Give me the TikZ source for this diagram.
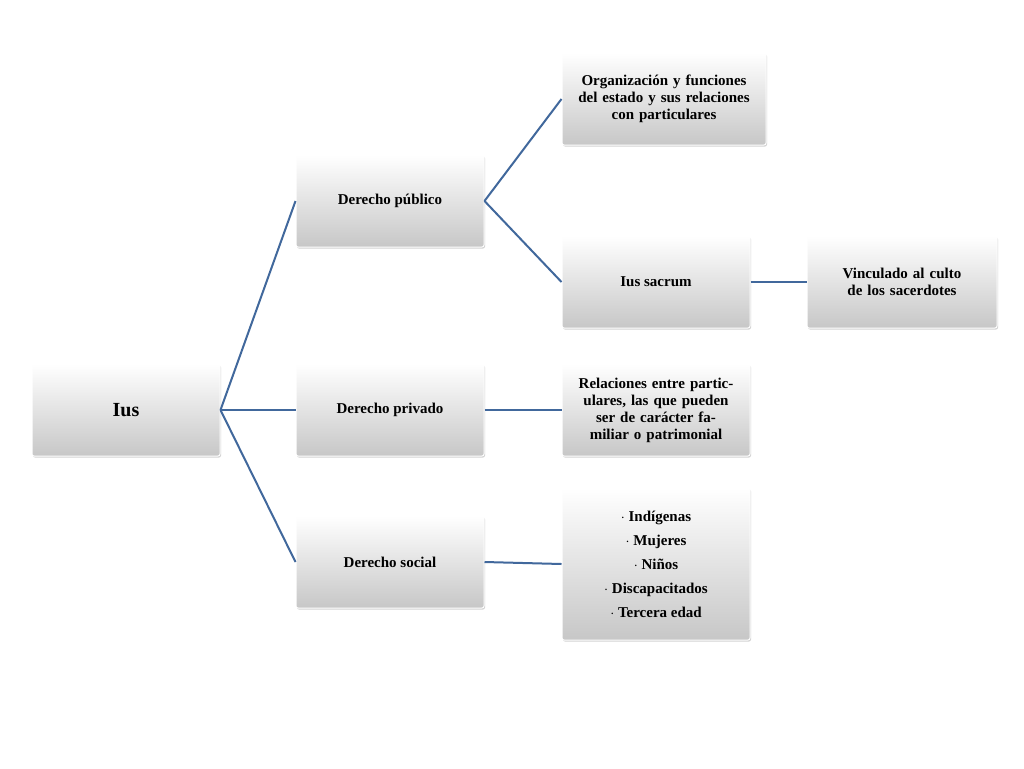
\documentclass[tikz,border=0pt]{standalone}
\usepackage{fontspec}
\setmainfont{Liberation Serif}
\usetikzlibrary{positioning,shadows}
\definecolor{linkblue}{RGB}{65,104,156}
\begin{document}
\begin{tikzpicture}[x=1pt,y=-1pt,
        box/.style={rectangle,rounded corners=2pt,draw=white,line width=1pt,
            top color=white,bottom color=black!22,drop shadow={opacity=0.35,shadow xshift=1pt,shadow yshift=-1.5pt},
            font=\fontsize{15}{17}\selectfont\bfseries,align=center,
            minimum width=188pt,minimum height=92pt,inner sep=4pt},
        link/.style={draw=linkblue,line width=2pt}]
\useasboundingbox[fill=white] (0,0) rectangle (1024,768);

\node[box,font=\fontsize{20}{22}\selectfont\bfseries] (ius) at (126,410) {Ius};

\node[box] (publico) at (390,201) {Derecho público};
\node[box] (privado) at (390,410) {Derecho privado};
\node[box] (social) at (390,562) {Derecho social};

\node[box,minimum width=204pt,text width=196pt] (estado) at (664,99) {Organización y funciones\\del estado y sus relaciones\\con particulares};
\node[box] (sacrum) at (656,282) {Ius sacrum};
\node[box,text width=182pt] (culto) at (902,282) {Vinculado al culto de los sacerdotes};
\node[box,text width=180pt] (relaciones) at (656,410) {Relaciones entre particulares, las que pueden ser de carácter familiar o patrimonial};
\node[box,minimum height=152pt,font=\fontsize{15}{24}\selectfont\bfseries] (grupos) at (656,564)
    {$\cdot$ Indígenas\\$\cdot$ Mujeres\\$\cdot$ Niños\\$\cdot$ Discapacitados\\$\cdot$ Tercera edad};

\draw[link] (ius.east) -- (publico.west);
\draw[link] (ius.east) -- (privado.west);
\draw[link] (ius.east) -- (social.west);
\draw[link] (publico.east) -- (estado.west);
\draw[link] (publico.east) -- (sacrum.west);
\draw[link] (sacrum.east) -- (culto.west);
\draw[link] (privado.east) -- (relaciones.west);
\draw[link] (social.east) -- (grupos.west);
\end{tikzpicture}
\end{document}
